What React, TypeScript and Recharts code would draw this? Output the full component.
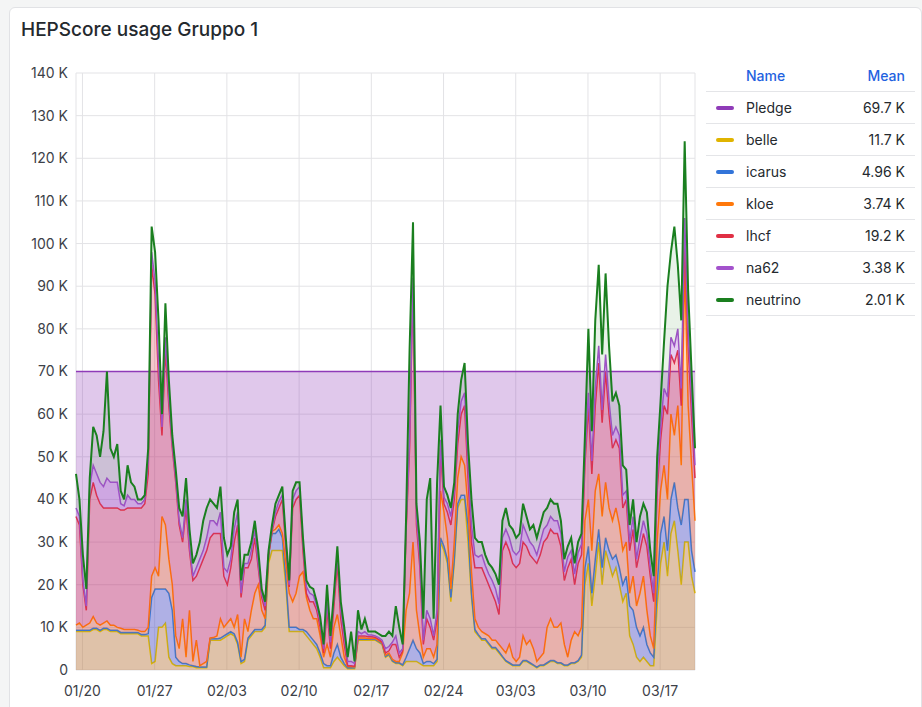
import { AreaChart, Area, XAxis, YAxis, CartesianGrid } from 'recharts';

// samples every 8h, starting 01/19 09:00 (UTC), 60 days in total
const START = Date.UTC(2025, 0, 19, 9);
const STEP_MS = 8 * 3600 * 1000;

const weekLabels = ['01/20', '01/27', '02/03', '02/10', '02/17', '02/24', '03/03', '03/10', '03/17'];
const yTicks = [0, 10, 20, 30, 40, 50, 60, 70, 80, 90, 100, 110, 120, 130, 140];

// values in K (HEPScore)
const PLEDGE_K = 70;

const belle = [
  9, 9, 9, 9, 9, 9.5, 9.5, 9, 9.5, 9.5,
  9, 9, 9, 8.5, 8.5, 8.5, 8.5, 8.5, 8.5, 8,
  8, 8, 1.5, 2, 10, 10, 11, 3, 1.5, 1,
  1, 1, 1, 0.8, 0.8, 0.5, 0.5, 0.5, 0.5, 7,
  7, 7, 7, 7.5, 8, 8.5, 8, 6, 1.5, 2,
  7, 8, 9, 9, 9, 10, 25, 28, 28, 28,
  28, 20, 9, 9, 9, 9, 9, 8, 7, 6,
  5, 3, 0.5, 0.5, 0.5, 2, 3, 2, 1, 0.3,
  0.3, 0.3, 7, 7, 7, 7, 7, 7, 6.5, 6,
  3, 3.5, 2, 1.5, 1.5, 1, 2, 2, 2, 2,
  1.5, 1, 1, 1, 1, 2, 30, 28, 25, 16,
  25, 38, 40, 40, 30, 17, 9, 8, 7, 7,
  6, 5, 5, 4, 3, 2, 1.5, 1, 1, 1,
  2, 2, 1.5, 1, 0.5, 1, 1, 1.5, 2, 2,
  1.5, 1.5, 1, 1, 1.5, 1.5, 2, 3, 20, 25,
  15, 22, 30, 20, 28, 25, 22, 24, 20, 16,
  18, 8, 6, 3, 2, 3, 2, 1, 1, 15,
  25, 30, 22, 32, 35, 28, 20, 30, 30, 22,
  18,
];

const icarus = [
  0.3, 0.3, 0.3, 0.3, 0.3, 0.3, 0.3, 0.3, 0.3, 0.3,
  0.3, 0.3, 0.3, 0.3, 0.3, 0.3, 0.3, 0.3, 0.3, 0.3,
  0.3, 0.5, 15.5, 17, 9, 9, 8, 15, 12.5, 2,
  1, 0.5, 0.5, 0.4, 0.2, 0.3, 0.2, 0.2, 0.2, 0.3,
  0.3, 0.3, 0.5, 0.5, 0.5, 0.5, 0.5, 0.5, 0.5, 0.5,
  0.5, 0.5, 0.5, 0.5, 0.5, 0.5, 2, 4, 4, 5,
  3, 2, 1, 1, 1, 0.5, 0.5, 1, 1, 1,
  1, 1, 1, 0.5, 0.5, 2, 3, 1, 0.5, 0.2,
  0.2, 0.2, 0.2, 0.2, 0.2, 0.2, 0.2, 0.2, 0.2, 0.2,
  0.2, 0.2, 0.2, 0.2, 0.2, 0.2, 1, 3, 5, 3,
  2.5, 0.5, 1, 1, 0.5, 0.5, 1, 1, 1, 1,
  1, 1, 1, 1, 4, 1, 0.5, 0.3, 0.3, 0.3,
  0.3, 0.3, 0.3, 0.3, 0.2, 0.2, 0.2, 0.2, 0.2, 0.2,
  0.2, 0.2, 0.2, 0.2, 0.2, 0.2, 0.2, 0.2, 0.2, 0.2,
  0.2, 0.2, 0.2, 0.2, 0.2, 0.2, 0.2, 0.5, 4, 4,
  3, 4, 3, 4, 3, 3, 4, 3, 4, 4,
  4, 7, 8, 7, 6, 7, 4, 3, 2, 5,
  7, 6, 6, 8, 9, 10, 14, 10, 10, 6,
  5,
];

const kloe = [
  1.2, 1.7, 0.7, 1.2, 1.7, 2.7, 1.2, 1.2, 1.2, 1.7,
  1.2, 1.2, 0.7, 1, 0.7, 0.7, 0.7, 0.7, 0.5, 0.7,
  0.7, 1.5, 5, 5, 3, 17, 15, 8, 6, 5,
  3, 10.5, 1.5, 12.8, 1, 6.2, 0.3, 0.8, 1.3, 0.2,
  0.3, 0.7, 4.5, 2, 2.5, 3, 1.5, 6.5, 1, 9.5,
  1.5, 5.5, 8.5, 10.5, 4.5, 1.5, 0, 0.5, 1, 1,
  1, 3, 8, 6, 8, 12.5, 13.5, 8, 6, 5,
  6, 4, 1.5, 5, 2, 6, 7, 5, 1.5, 0.3,
  0.3, 0.2, 0.3, 0.3, 0.3, 0.2, 0.2, 0.2, 0.2, 0.2,
  0.3, 0.3, 0.3, 0.3, 0.3, 2.8, 11, 13, 23, 9,
  4, 1.5, 3, 3, 1.5, 3.5, 11, 8, 5, 2,
  4, 6, 9, 7, 4, 5, 2.5, 1.7, 1.7, 1.2,
  1.7, 1.7, 1.7, 1.7, 1.8, 1.8, 4.3, 1.8, 0.8, 1.8,
  5.8, 3.8, 5.3, 3.8, 1.3, 1.8, 2.8, 8.3, 9.8, 7.8,
  8.3, 9.3, 4.8, 1.8, 5.3, 7.3, 5.8, 6.5, 11, 11,
  10, 16, 13, 12, 13, 10, 9, 11, 10, 8,
  8, 3, 8, 5, 10, 12, 8, 4, 2, 10,
  10, 12, 12, 20, 11, 24, 14, 55, 22, 20,
  12,
];

const lhcf = [
  25.5, 23, 10, 3.5, 29, 31.5, 30, 28.5, 27, 26.5,
  27.5, 27.5, 28, 27.7, 28, 28.5, 28.5, 28.5, 28.7, 29,
  30, 36, 73, 64, 46, 19, 41, 36, 32, 36,
  29, 18, 35, 14, 19, 15, 23, 24.5, 26, 23.5,
  24.4, 24, 20, 12, 9, 12, 20, 21, 14, 12,
  15, 12, 13, 4, 3, 2, 0, 0, 3, 4,
  8, 4, 1.5, 22, 22, 19, 5, 1, 2, 4,
  2, 2, 1, 8, 2, 5, 12, 4, 3, 0.2,
  0.2, 0.2, 0.5, 0.5, 0.5, 0.4, 0.4, 0.3, 0.3, 0.2,
  0.5, 0.5, 3.5, 4, 1, 0.5, 19, 34, 60, 20,
  16, 3, 7, 5, 4, 6, 10, 2, 6, 15,
  10, 8, 10, 14, 7, 7, 12, 14, 15, 13.5,
  12, 11, 9, 7, 23, 26, 22, 22, 22, 22,
  22, 23, 20, 21, 23, 24, 26, 21, 21, 22,
  22, 18, 15, 21, 19, 11, 17, 17, 13, 22,
  18, 20, 26, 22, 26, 22, 17, 16, 18, 10,
  10, 10, 11, 9, 10, 10, 15, 14, 11, 12,
  12, 14, 20, 14, 17, 13, 14, 7, 14, 12,
  10,
];

const na62 = [
  2, 2, 1, 1, 3, 4, 5, 5, 5, 7,
  6, 6, 6, 1.5, 1, 3, 2, 2, 1, 1,
  1, 3, 3, 3, 4, 2, 3, 2, 1, 1,
  1, 1, 2, 1, 1, 2, 2, 2, 3, 4,
  3, 2, 5, 2, 3, 2, 3, 3, 1, 1,
  1, 2, 2, 1, 1, 1, 0.5, 0.5, 1, 1.5,
  1, 1, 0.5, 2, 2, 2, 1.5, 1.5, 2, 1.5,
  1, 1.5, 1, 2, 1.5, 2, 2, 2, 2, 1,
  1, 0.6, 1, 0.5, 1, 0.4, 0.4, 0.3, 0.4, 0.4,
  1, 1, 0.5, 2, 1, 0.5, 1, 2, 2, 2,
  2, 1, 2, 2, 1, 2, 2, 1.5, 2, 2,
  2, 3, 3, 3, 3, 4, 3, 2.5, 3, 2.5,
  2.5, 3, 3, 2.5, 3, 3, 3, 3, 3, 3,
  4, 3, 3, 3, 2, 3, 3, 3, 3, 3,
  3, 3, 2, 2.5, 2, 2.5, 2.5, 2.5, 2, 3,
  3, 4, 4, 3, 4, 3, 3, 3, 3, 3,
  2, 2, 3, 2, 3, 3, 3, 2, 2, 3,
  3, 4, 4, 4, 4, 5, 4, 4, 4, 4,
  3,
];

const neutrino = [
  8, 4, 6, 4, 2, 9, 9, 6, 13, 25,
  8, 6, 9, 3, 1.5, 7, 4, 3, 1, 1,
  1, 3, 6, 7, 10, 3, 8, 4, 2, 2,
  3, 5, 5, 4, 3, 3, 4, 7, 7, 5,
  4, 4, 6, 7, 4, 3, 4, 3, 3, 2,
  2, 2, 2, 3, 1, 1, 0.5, 1, 2, 1.5,
  2, 1, 1, 2, 2, 1, 1.5, 1.5, 1.5, 1.5,
  1, 1, 1, 4, 1.5, 1, 2, 2, 2, 1,
  7, 0.5, 5, 1, 3, 0.8, 0.8, 1, 0.9, 1,
  3, 3.5, 1.5, 7, 6, 1, 2, 21, 13, 3,
  4, 5, 26, 33, 4, 30, 8, 2.5, 2, 2,
  2, 4, 5, 7, 5, 6, 4, 3.5, 3, 2.5,
  2.5, 3, 3.5, 4.5, 4, 5, 3, 5, 4, 4,
  5, 4, 3, 5, 4, 4, 4, 4, 4, 4,
  4, 3, 3, 2.5, 3, 2.5, 2.5, 2.5, 5, 15,
  7, 16, 19, 13, 19, 13, 8, 8, 7, 7,
  5, 4, 4, 4, 5, 4, 5, 4, 4, 5,
  6, 11, 26, 20, 28, 15, 16, 18, 9, 6,
  4,
];

const legendNames = ['Pledge', 'belle', 'icarus', 'kloe', 'lhcf', 'na62', 'neutrino'];
const legendMeans = ['69.7 K', '11.7 K', '4.96 K', '3.74 K', '19.2 K', '3.38 K', '2.01 K'];

const COLORS: Record<string, string> = {
  Pledge: '#8F3BB8',
  belle: '#E0B400',
  icarus: '#3274D9',
  kloe: '#FF780A',
  lhcf: '#E02F44',
  na62: '#A352CC',
  neutrino: '#1A7F1F',
};

const stacked = [
  { key: 'belle', values: belle, fillOpacity: 0.28, width: 1.5 },
  { key: 'icarus', values: icarus, fillOpacity: 0.28, width: 1.5 },
  { key: 'kloe', values: kloe, fillOpacity: 0.28, width: 1.5 },
  { key: 'lhcf', values: lhcf, fillOpacity: 0.28, width: 1.5 },
  { key: 'na62', values: na62, fillOpacity: 0.28, width: 1.5 },
  // green band shows mostly as the lavender behind it
  { key: 'neutrino', values: neutrino, fillOpacity: 0.1, width: 2 },
];

const data = belle.map((_, i) => {
  const row: Record<string, number> = { t: START + i * STEP_MS, pledge: PLEDGE_K };
  stacked.forEach(s => { row[s.key] = s.values[i]; });
  return row;
});

const END = START + (belle.length - 1) * STEP_MS;

const weekTicks = weekLabels.map(l => {
  const [m, d] = l.split('/').map(Number);
  return Date.UTC(2025, m - 1, d);
});

const FONT = 'Inter, "Noto Sans", sans-serif';
const tickStyle = { fill: '#3d4148', fontSize: 14, fontFamily: FONT };

export default function App() {
  return (
    <div style={{ position: 'fixed', inset: 0, background: '#f4f5f5', fontFamily: FONT }}>
      <div
        style={{
          position: 'absolute',
          left: 9,
          top: 7,
          width: 911,
          height: 720,
          background: '#fff',
          border: '1px solid #e1e2e5',
          borderRadius: 6,
        }}
      >
        <div
          style={{
            position: 'absolute',
            left: 11,
            top: 10,
            fontSize: 19,
            fontWeight: 500,
            color: '#24292e',
            lineHeight: '24px',
          }}
        >
          HEPScore usage Gruppo 1
        </div>

        <div style={{ position: 'absolute', left: 0, top: 0 }}>
          <AreaChart
            width={700}
            height={699}
            data={data}
            margin={{ top: 65, right: 15, bottom: 7, left: 8 }}
          >
            <CartesianGrid stroke="#e3e3e6" strokeWidth={1} />
            <XAxis
              dataKey="t"
              type="number"
              domain={[START, END]}
              ticks={weekTicks}
              tickFormatter={(v: number) => weekLabels[weekTicks.indexOf(v)] ?? ''}
              axisLine={false}
              tickLine={false}
              tickMargin={10}
              height={30}
              tick={tickStyle}
            />
            <YAxis
              domain={[0, 140]}
              ticks={yTicks}
              tickFormatter={(v: number) => (v === 0 ? '0' : `${v} K`)}
              axisLine={false}
              tickLine={false}
              width={58}
              tick={tickStyle}
            />
            <Area
              type="linear"
              dataKey="pledge"
              stroke={COLORS.Pledge}
              strokeWidth={1.5}
              fill={COLORS.Pledge}
              fillOpacity={0.28}
              dot={false}
              activeDot={false}
              isAnimationActive={false}
            />
            {stacked.map(s => (
              <Area
                key={s.key}
                type="linear"
                dataKey={s.key}
                stackId="hep"
                stroke={COLORS[s.key]}
                strokeWidth={s.width}
                fill={COLORS[s.key]}
                fillOpacity={s.fillOpacity}
                dot={false}
                activeDot={false}
                isAnimationActive={false}
              />
            ))}
          </AreaChart>
        </div>

        {/* legend table */}
        <div style={{ position: 'absolute', left: 696, top: 52, width: 209, fontSize: 14 }}>
          <div
            style={{
              height: 32,
              boxSizing: 'border-box',
              borderBottom: '1px solid #e4e5e8',
              display: 'flex',
              alignItems: 'center',
              color: '#1F62E0',
              fontWeight: 500,
            }}
          >
            <span style={{ marginLeft: 40, flex: 1 }}>Name</span>
            <span style={{ marginRight: 10 }}>Mean</span>
          </div>
          {legendNames.map((name, i) => (
            <div
              key={name}
              style={{
                height: 32,
                boxSizing: 'border-box',
                borderBottom: '1px solid #e4e5e8',
                display: 'flex',
                alignItems: 'center',
                color: '#24292e',
              }}
            >
              <span
                style={{
                  width: 18,
                  height: 4,
                  borderRadius: 2,
                  background: COLORS[name],
                  marginLeft: 10,
                  marginRight: 12,
                }}
              />
              <span style={{ flex: 1 }}>{name}</span>
              <span style={{ marginRight: 10 }}>{legendMeans[i]}</span>
            </div>
          ))}
        </div>
      </div>
    </div>
  );
}
